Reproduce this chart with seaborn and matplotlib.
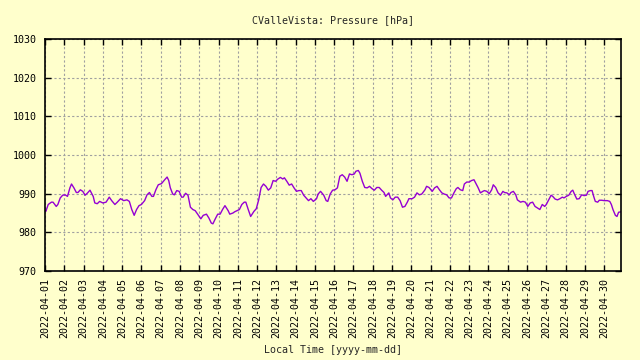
import pandas as pd
import matplotlib
matplotlib.use("Agg")
import matplotlib.pyplot as plt
import matplotlib.dates as mdates
import seaborn as sns

# hours after 2022-04-01 00:00 local time
hours = [0, 1, 4, 8, 10, 14, 16, 19, 22, 25, 28, 31, 33, 36, 39, 41, 44, 47, 50, 53,
         56, 60, 62, 65, 68, 72, 76, 80, 83, 87, 90, 94, 98, 102, 105, 108, 111, 114, 117,
         120, 124, 127, 130, 133, 135, 138, 141, 145, 149, 152, 154, 156, 159, 161, 164,
         167, 170, 172, 175, 178, 181, 184, 187, 191, 194, 197, 201, 204, 207, 209, 212,
         215, 218, 221, 224, 228, 230, 234, 236,
         239, 242, 245, 248, 250, 253, 256, 260, 263, 266, 269, 272, 275, 278, 281, 284,
         287, 290, 293, 296, 298, 301, 304, 307, 310, 313, 316, 319, 322, 325, 328, 331,
         334, 338, 340, 343, 347, 350, 352,
         355, 358, 361, 364, 367, 370, 373, 376, 379, 382, 385, 387, 390, 392, 395, 398,
         401, 404, 407, 410, 413, 416, 419, 422, 424, 428, 430, 433, 436, 439, 442, 445,
         448, 451, 453, 457, 460, 463, 466, 469,
         473, 475, 478, 482, 485, 488, 491, 494, 497, 500, 503, 506, 509, 512, 514, 517,
         520, 522, 525, 528, 531, 534, 536, 539, 542, 545, 547, 550, 553, 556, 558, 561,
         564, 567, 570, 572, 575, 578, 580, 583, 586,
         588, 592, 595, 598, 601, 604, 607, 610, 613, 616, 619, 622, 624, 627, 630, 632,
         635, 638, 641, 644, 646, 649, 652, 655, 657, 659, 662, 665, 668, 671, 674, 676,
         679, 681, 683, 685, 688, 690, 693, 696, 700, 703, 705, 707, 710, 712, 714, 717]

pressure = [985.7, 985.4, 987.2, 987.8, 987.8, 986.7, 987.2, 988.9, 989.6, 989.7,
            989.3, 991.5, 992.5, 991.5, 990.3, 990.3, 991.0, 990.6, 989.6, 990.2,
            990.9, 989.3, 987.6, 987.4, 988.0, 987.6, 987.8, 989.1, 988.2, 987.2,
            987.8, 988.7, 988.2, 988.4, 988.0, 985.9, 984.4, 985.9, 986.9,
            987.2, 988.2, 989.7, 990.3, 989.3, 989.3, 991.0, 992.3, 992.6, 993.6,
            994.3, 993.4, 991.5, 989.9, 989.7, 990.8, 990.6, 989.1, 989.1, 990.1,
            989.6, 986.5, 985.9, 985.6, 984.4, 983.5, 984.4, 984.7, 983.7, 982.4,
            982.2, 983.5, 984.7, 984.7, 985.9, 986.9, 985.6, 984.7, 985.0, 985.3,
            985.6, 985.9, 987.2, 987.8, 987.8, 985.9, 984.1, 985.4, 986.1, 988.4,
            991.6, 992.5, 991.9, 990.9, 991.5, 993.4, 993.2, 993.8, 994.2, 993.8,
            994.1, 993.2, 992.2, 992.5, 991.5, 990.6, 990.8, 990.8, 989.6, 988.9,
            988.2, 988.7, 988.0, 988.7, 989.9, 990.6, 989.6, 988.2, 988.0,
            989.9, 990.9, 991.0, 991.5, 994.5, 994.9, 994.3, 993.2, 995.1, 994.9,
            995.1, 995.8, 996.0, 995.3, 993.2, 991.6, 991.5, 991.9, 991.3, 990.9,
            991.6, 991.6, 990.9, 990.3, 989.3, 990.2, 988.9, 988.4, 989.1, 989.1,
            988.2, 986.5, 986.7, 987.8, 988.7, 988.7, 989.1, 990.2, 989.7, 989.9,
            991.0, 991.9, 991.6, 990.6, 991.5, 991.9, 991.0, 990.2, 989.9, 989.7,
            988.9, 988.9, 990.2, 991.3, 991.6, 991.0, 990.8, 992.5, 993.0, 993.0,
            993.4, 993.6, 992.8, 991.6, 990.2, 990.6, 990.8, 990.6, 990.0, 991.0,
            992.3, 991.6, 990.2, 989.6, 990.6, 990.3, 990.2, 989.7, 990.3, 990.6,
            989.7,
            988.4, 987.8, 988.0, 987.8, 986.7, 987.6, 987.8, 986.7, 986.3, 985.9,
            987.2, 986.7, 987.2, 988.4, 989.6, 989.3, 988.6, 988.4, 988.7, 989.1,
            988.9, 989.3, 989.6, 990.6, 990.9, 989.9, 988.6, 988.7, 989.7, 989.5,
            989.6, 990.6, 990.8, 990.8, 989.3, 988.0, 987.8, 988.3, 988.3, 988.2,
            988.2, 988.0, 987.2, 985.9, 984.4, 984.1, 985.2, 985.3]

start = pd.Timestamp("2022-04-01 00:00")
df = pd.DataFrame({"time": start + pd.to_timedelta(hours, unit="h"),
                   "pressure": pressure})

bg = "#ffffcc"
sns.set_theme(style="ticks")
plt.rcParams["font.family"] = ["DejaVu Sans Mono"]
fs = 7.2

fig = plt.figure(figsize=(6.4, 3.6), dpi=100, facecolor=bg)
ax = fig.add_axes([45 / 640, 89 / 360, 576 / 640, 232 / 360])
ax.set_facecolor(bg)

sns.lineplot(data=df, x="time", y="pressure", ax=ax, color="#9400d3", linewidth=1.0)

ax.set_xlim(df["time"].iloc[0], df["time"].iloc[-1])
ax.set_ylim(970, 1030)
ax.set_yticks(range(970, 1031, 10))
ax.xaxis.set_major_locator(mdates.DayLocator())
ax.xaxis.set_major_formatter(mdates.DateFormatter("%Y-%m-%d"))
plt.setp(ax.get_xticklabels(), rotation=90)

ax.grid(True, color="#a0a0a0", linestyle=(0, (2, 2)), linewidth=0.8)
ax.tick_params(direction="in", length=4, width=1, top=True, right=True,
               labelsize=fs, colors="black")
ax.tick_params(axis="x", pad=5)
ax.tick_params(axis="y", pad=6)
for s in ax.spines.values():
    s.set_color("black")
    s.set_linewidth(1.2)

ax.set_xlabel("")
ax.set_ylabel("")
fig.text(333 / 640, 1 - 20 / 360, "CValleVista: Pressure [hPa]", ha="center", va="center", fontsize=fs)
fig.text(333 / 640, 10 / 360, "Local Time [yyyy-mm-dd]", ha="center", va="center", fontsize=fs)

fig.savefig("out.png", dpi=100, facecolor=bg)
